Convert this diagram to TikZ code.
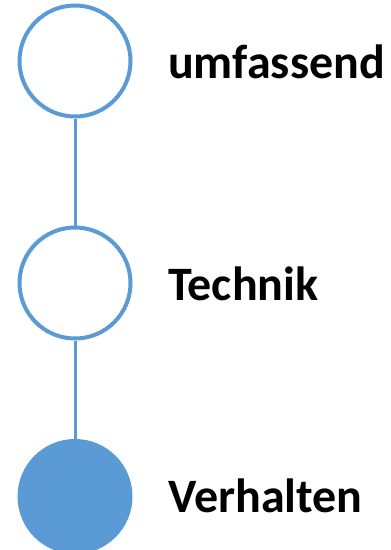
\documentclass[tikz,border=0pt]{standalone}
\usepackage{fontspec}
\setmainfont{Carlito}
\definecolor{cblue}{HTML}{5B9BD5}
\begin{document}
\begin{tikzpicture}[x=1pt,y=1pt,
  ring/.style={circle,draw=cblue,line width=4pt,fill=white,minimum size=111pt,inner sep=0pt},
  dot/.style={circle,fill=cblue,draw=cblue,line width=4pt,minimum size=111pt,inner sep=0pt},
  lbl/.style={anchor=base west,inner sep=0pt,font=\fontsize{48}{52}\selectfont\bfseries},
  conn/.style={draw=cblue,line width=3pt}]
\useasboundingbox (0,0) rectangle (391,-550);
\node[ring] (c1) at (75,-61) {};
\node[ring] (c2) at (75,-283) {};
\node[dot] (c3) at (75,-496.5) {};
\draw[conn] (c1.south) -- (c2.north);
\draw[conn] (c2.south) -- (c3.north);
\node[lbl] (t1) at (168,-78) {umfassend};
\node[lbl] (t2) at (168,-300) {Technik};
\node[lbl] (t3) at (168,-512.5) {Verhalten};
\end{tikzpicture}
\end{document}
